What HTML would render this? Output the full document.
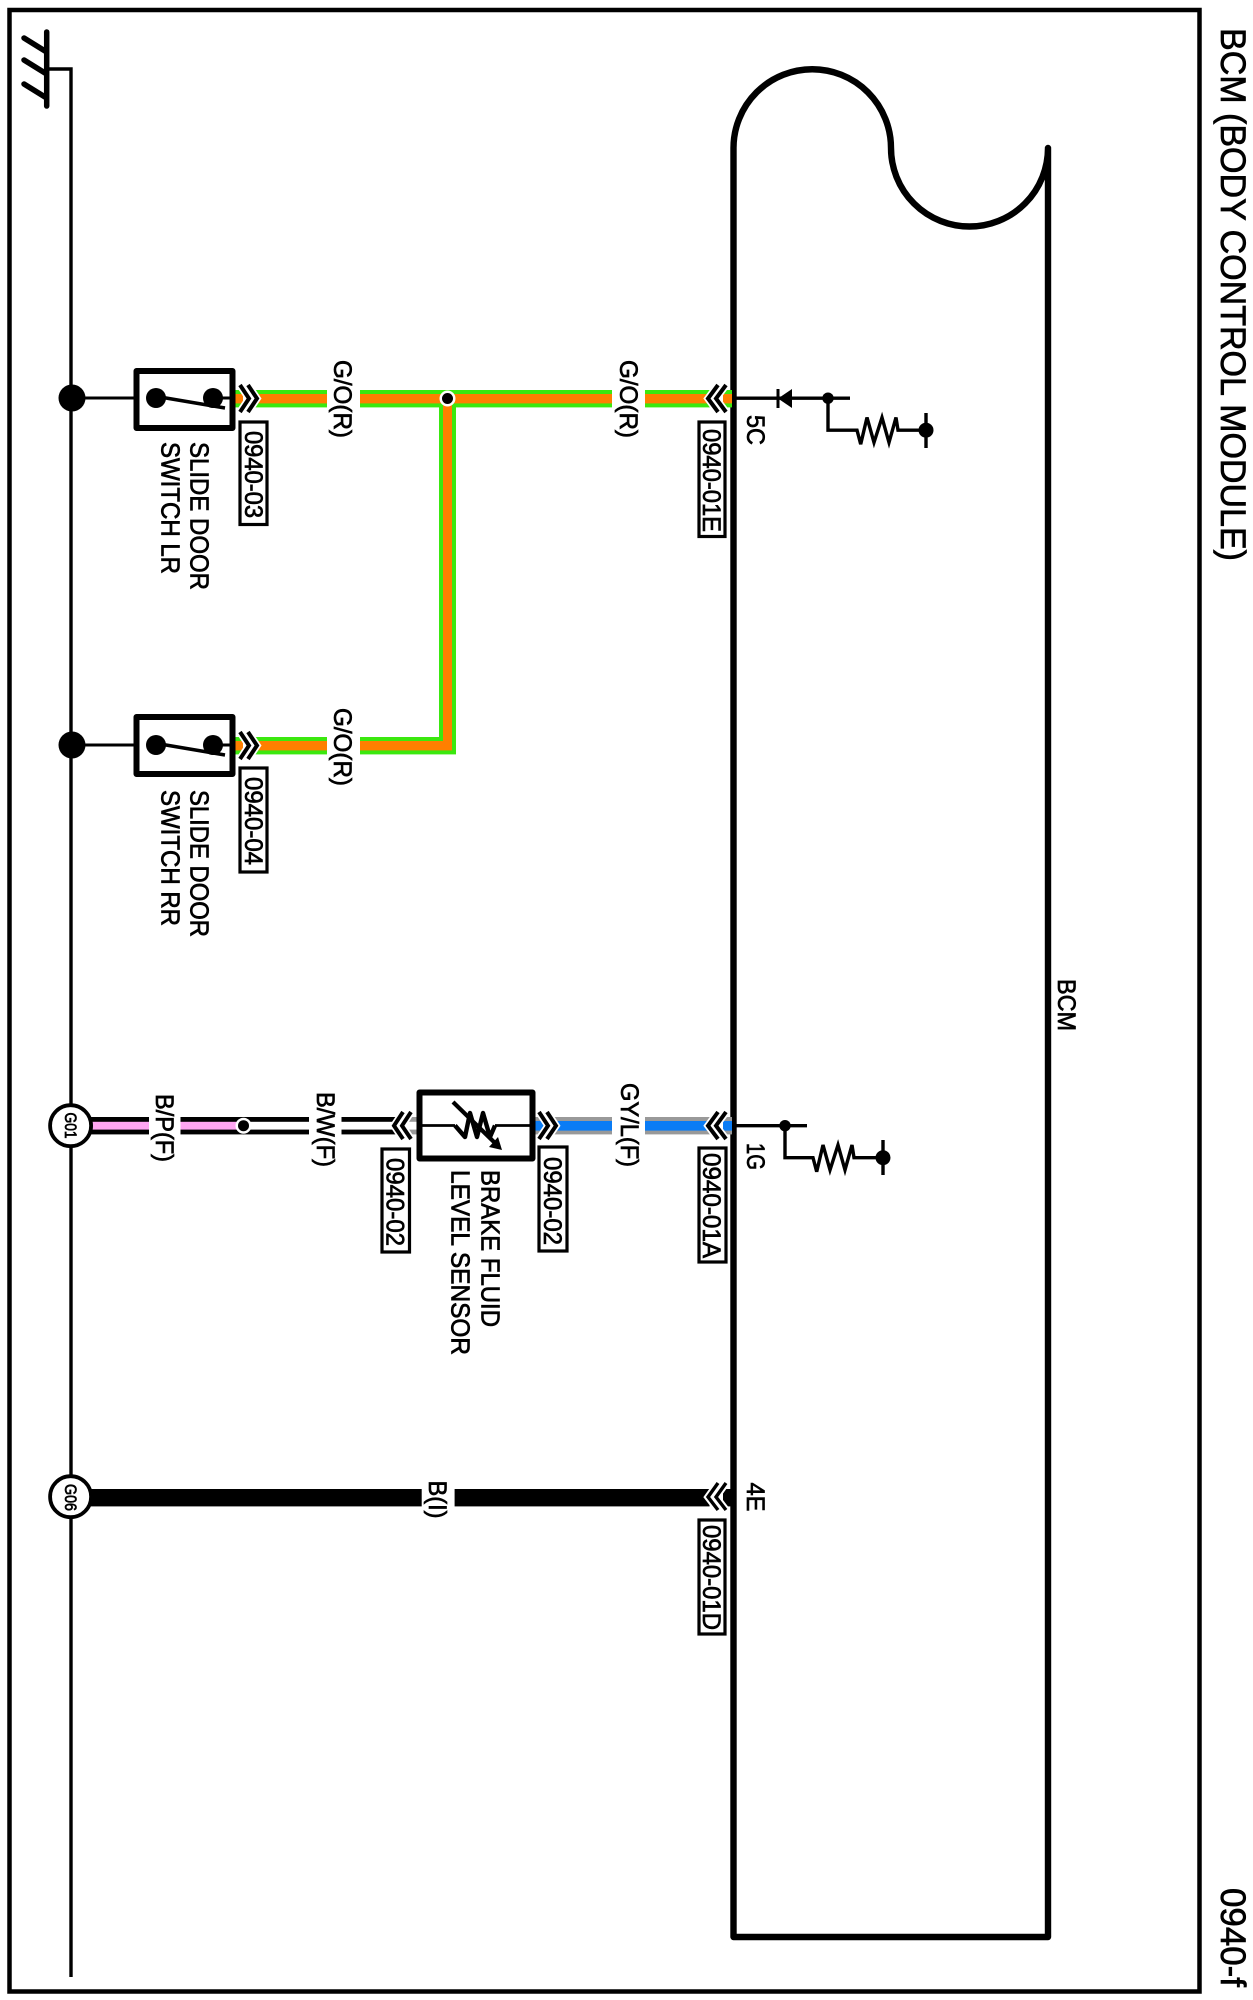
<!DOCTYPE html>
<html>
<head>
<meta charset="utf-8">
<style>
html,body{margin:0;padding:0;background:#fff;width:1253px;height:2000px;overflow:hidden}
svg{display:block}
text{font-family:"Liberation Sans",sans-serif;fill:#000;stroke:#000;stroke-width:.7}
</style>
</head>
<body>
<svg width="1253" height="2000" viewBox="0 0 1253 2000" xmlns="http://www.w3.org/2000/svg">
<rect width="1253" height="2000" fill="#fff"/>
<!-- frame -->
<rect x="9.5" y="10" width="1190" height="1981.5" fill="none" stroke="#000" stroke-width="4.5"/>
<!-- ground -->
<g stroke="#000" fill="none" stroke-linecap="round">
<path d="M46.7 32V106" stroke-width="5.5"/>
<path d="M24 38L45 51M24 60L45 73M24 84L45 97" stroke-width="5.5"/>
</g>
<path d="M47 69H71V1977" fill="none" stroke="#000" stroke-width="3.4"/>
<circle cx="72" cy="398" r="13.5"/>
<circle cx="72" cy="745" r="13.5"/>

<!-- BCM outline -->
<path d="M1048 148V1937H733.5V148A78.75 78.75 0 0 1 891 148A78.5 78.5 0 0 0 1048 148Z" fill="none" stroke="#000" stroke-width="6.4" stroke-linejoin="round"/>

<!-- top wires -->
<g fill="#3be80f">
<rect x="235" y="390" width="8" height="17.4"/>
<rect x="255" y="390" width="72" height="17.4"/>
<rect x="360" y="390" width="252" height="17.4"/>
<rect x="645" y="390" width="65" height="17.4"/>
<rect x="723" y="390" width="9" height="17.4"/>
<rect x="439" y="390" width="17" height="364"/>
<rect x="235" y="737" width="8" height="17.4"/>
<rect x="255" y="737" width="72" height="17.4"/>
<rect x="360" y="737" width="96" height="17.4"/>
</g>
<g fill="#ff7f00">
<rect x="235" y="394" width="8" height="9.4"/>
<rect x="255" y="394" width="72" height="9.4"/>
<rect x="360" y="394" width="252" height="9.4"/>
<rect x="645" y="394" width="65" height="9.4"/>
<rect x="723" y="394" width="9" height="9.4"/>
<rect x="443" y="394" width="9" height="356"/>
<rect x="235" y="741" width="8" height="9.4"/>
<rect x="255" y="741" width="72" height="9.4"/>
<rect x="360" y="741" width="92" height="9.4"/>
</g>
<circle cx="447.5" cy="398.5" r="8" fill="#fff"/>
<circle cx="447.5" cy="398.5" r="5.5"/>

<!-- row 3 wires -->
<g fill="#000">
<rect x="90" y="1117" width="59" height="17.4"/>
<rect x="180.5" y="1117" width="63" height="17.4"/>
<rect x="243" y="1117" width="66" height="17.4"/>
<rect x="341.5" y="1117" width="54" height="17.4"/>
</g>
<g fill="#ffa6f2">
<rect x="92" y="1121.8" width="57" height="7.8"/>
<rect x="180.5" y="1121.8" width="63" height="7.8"/>
</g>
<g fill="#fff">
<rect x="243" y="1121.8" width="66" height="7.8"/>
<rect x="341.5" y="1121.8" width="54" height="7.8"/>
</g>
<rect x="409" y="1117" width="8" height="17.4" fill="#999"/>
<rect x="409" y="1121.8" width="8" height="7.8" fill="#fff"/>
<circle cx="243.5" cy="1125.7" r="8" fill="#fff"/>
<circle cx="243.5" cy="1125.7" r="5.5"/>
<g fill="#999">
<rect x="535" y="1117" width="10" height="17.4"/>
<rect x="554" y="1117" width="58" height="17.4"/>
<rect x="645" y="1117" width="65" height="17.4"/>
<rect x="723" y="1117" width="9" height="17.4"/>
</g>
<g fill="#0a7cf5">
<rect x="535" y="1121" width="10" height="9.6"/>
<rect x="554" y="1121" width="58" height="9.6"/>
<rect x="645" y="1121" width="65" height="9.6"/>
<rect x="723" y="1121" width="9" height="9.6"/>
</g>

<!-- row 4 wire -->
<rect x="90" y="1489" width="331.7" height="17.4"/>
<rect x="454.6" y="1489" width="255" height="17.4"/>
<rect x="723" y="1489" width="9" height="17.4"/>

<!-- ground circles -->
<circle cx="70.6" cy="1125.7" r="20.5" fill="#fff" stroke="#000" stroke-width="3.8"/>
<circle cx="70.6" cy="1496.7" r="20.5" fill="#fff" stroke="#000" stroke-width="3.8"/>
<text transform="translate(65,1112.5) rotate(90)" font-size="17" textLength="26" lengthAdjust="spacingAndGlyphs">G01</text>
<text transform="translate(65,1484) rotate(90)" font-size="17" textLength="27" lengthAdjust="spacingAndGlyphs">G06</text>

<!-- switches -->
<g fill="none" stroke="#000">
<path d="M71 398H136M213 398H233M71 745H136M213 745H233" stroke-width="3"/>
<rect x="136.5" y="371" width="96" height="57" stroke-width="6" stroke-linejoin="round"/>
<rect x="136.5" y="717" width="96" height="57" stroke-width="6" stroke-linejoin="round"/>
<path d="M160 397L225 408M160 744L225 755" stroke-width="3.5"/>
</g>
<circle cx="156" cy="398" r="10"/><circle cx="213" cy="398" r="10"/>
<circle cx="156" cy="745" r="10"/><circle cx="213" cy="745" r="10"/>

<!-- sensor -->
<rect x="419.5" y="1092.5" width="113" height="66" fill="#fff" stroke="#000" stroke-width="6" stroke-linejoin="round"/>
<path d="M419 1125.5H455M495 1125.5H533" stroke="#000" stroke-width="2.8" fill="none"/>
<path d="M455 1125.5L465 1137L470 1113L477 1137L483 1113L490 1137L495 1125.5" stroke="#000" stroke-width="4.4" fill="none" stroke-linejoin="round"/>
<path d="M453 1102L495 1143" stroke="#000" stroke-width="4.2" fill="none"/>
<path d="M502 1150L489 1147L498 1137Z"/>

<!-- chevrons -->
<g fill="none" stroke-linejoin="miter">
<g stroke="#fff" stroke-width="7.5">
<path d="M240 385L249 398.5L240 412M248 385L257 398.5L248 412"/>
<path d="M240 732L249 745.5L240 759M248 732L257 745.5L248 759"/>
<path d="M718 385L708 398.5L718 412M726 385L716 398.5L726 412"/>
<path d="M403 1112L394 1125.7L403 1139M411 1112L402 1125.7L411 1139"/>
<path d="M539 1112L548 1125.7L539 1139M547 1112L556 1125.7L547 1139"/>
<path d="M718 1112L708 1125.7L718 1139M726 1112L716 1125.7L726 1139"/>
<path d="M718 1483L708 1497L718 1510M726 1483L716 1497L726 1510"/>
</g>
<g stroke="#000" stroke-width="4">
<path d="M240 385L249 398.5L240 412M248 385L257 398.5L248 412"/>
<path d="M240 732L249 745.5L240 759M248 732L257 745.5L248 759"/>
<path d="M718 385L708 398.5L718 412M726 385L716 398.5L726 412"/>
<path d="M403 1112L394 1125.7L403 1139M411 1112L402 1125.7L411 1139"/>
<path d="M539 1112L548 1125.7L539 1139M547 1112L556 1125.7L547 1139"/>
<path d="M718 1112L708 1125.7L718 1139M726 1112L716 1125.7L726 1139"/>
</g>
<g stroke="#000" stroke-width="3.4">
<path d="M718 1483L708 1497L718 1510M726 1483L716 1497L726 1510"/>
</g>
</g>

<!-- right circuits -->
<g fill="none" stroke="#000" stroke-width="3.4">
<path d="M735 398.2H850"/>
<path d="M828 398.2V430.2H857L860.7 444.2L867 417.5L874 442.5L882 417.5L889 442.5L896 417.5L898 430.2H926"/>
<path d="M926 413V448"/>
<path d="M735 1125.7H807"/>
<path d="M785 1125.7V1157.7H813L816.7 1171.7L823 1145L830 1170L838 1145L845 1170L852 1145L854 1157.7H883"/>
<path d="M883 1140V1175"/>
</g>
<path d="M792 389V408L778 398.5Z"/>
<path d="M778 389V408" stroke="#000" stroke-width="3"/>
<circle cx="828" cy="398.2" r="5.7"/>
<circle cx="926" cy="430.2" r="7.5"/>
<circle cx="785" cy="1125.7" r="5.7"/>
<circle cx="883" cy="1157.7" r="7.5"/>

<!-- connector boxes -->
<g fill="#fff" stroke="#000" stroke-width="3.2">
<rect x="240" y="422" width="27" height="102.5"/>
<rect x="240" y="768" width="27" height="104"/>
<rect x="382" y="1149" width="27.5" height="103"/>
<rect x="539" y="1147" width="28" height="104"/>
<rect x="699" y="422" width="26" height="114.5"/>
<rect x="699" y="1148" width="27" height="114"/>
<rect x="699" y="1520" width="26" height="114"/>
</g>

<!-- text -->
<g font-size="25">
<text transform="translate(245,431) rotate(90)" textLength="87" lengthAdjust="spacingAndGlyphs">0940-03</text>
<text transform="translate(245,777) rotate(90)" textLength="88" lengthAdjust="spacingAndGlyphs">0940-04</text>
<text transform="translate(386.5,1158) rotate(90)" textLength="88" lengthAdjust="spacingAndGlyphs">0940-02</text>
<text transform="translate(544,1157) rotate(90)" textLength="88" lengthAdjust="spacingAndGlyphs">0940-02</text>
<text transform="translate(703,429) rotate(90)" textLength="103" lengthAdjust="spacingAndGlyphs">0940-01E</text>
<text transform="translate(703,1153) rotate(90)" textLength="105" lengthAdjust="spacingAndGlyphs">0940-01A</text>
<text transform="translate(703,1525) rotate(90)" textLength="105" lengthAdjust="spacingAndGlyphs">0940-01D</text>

<text transform="translate(334,360) rotate(90)" textLength="78" lengthAdjust="spacingAndGlyphs">G/O(R)</text>
<text transform="translate(334,708) rotate(90)" textLength="78" lengthAdjust="spacingAndGlyphs">G/O(R)</text>
<text transform="translate(620,360) rotate(90)" textLength="78" lengthAdjust="spacingAndGlyphs">G/O(R)</text>
<text transform="translate(156,1094) rotate(90)" textLength="68" lengthAdjust="spacingAndGlyphs">B/P(F)</text>
<text transform="translate(317,1092) rotate(90)" textLength="75" lengthAdjust="spacingAndGlyphs">B/W(F)</text>
<text transform="translate(621,1083) rotate(90)" textLength="84" lengthAdjust="spacingAndGlyphs">GY/L(F)</text>
<text transform="translate(429,1480.5) rotate(90)" textLength="38" lengthAdjust="spacingAndGlyphs">B(I)</text>

<text transform="translate(747,415) rotate(90)" textLength="30" lengthAdjust="spacingAndGlyphs">5C</text>
<text transform="translate(747,1143) rotate(90)" textLength="27" lengthAdjust="spacingAndGlyphs">1G</text>
<text transform="translate(747,1482.5) rotate(90)" textLength="29" lengthAdjust="spacingAndGlyphs">4E</text>
<text transform="translate(1058,979) rotate(90)" textLength="52" lengthAdjust="spacingAndGlyphs">BCM</text>
</g>
<g font-size="26">
<text transform="translate(190.5,442) rotate(90)" textLength="148" lengthAdjust="spacingAndGlyphs">SLIDE DOOR</text>
<text transform="translate(161.5,442) rotate(90)" textLength="132" lengthAdjust="spacingAndGlyphs">SWITCH LR</text>
<text transform="translate(190.5,790) rotate(90)" textLength="147" lengthAdjust="spacingAndGlyphs">SLIDE DOOR</text>
<text transform="translate(161.5,790) rotate(90)" textLength="136" lengthAdjust="spacingAndGlyphs">SWITCH RR</text>
<text transform="translate(481.5,1170) rotate(90)" textLength="157" lengthAdjust="spacingAndGlyphs">BRAKE FLUID</text>
<text transform="translate(451.5,1170) rotate(90)" textLength="185" lengthAdjust="spacingAndGlyphs">LEVEL SENSOR</text>
</g>
<g font-size="35">
<text transform="translate(1221,28) rotate(90)" textLength="533" lengthAdjust="spacingAndGlyphs">BCM (BODY CONTROL MODULE)</text>
<text transform="translate(1221,1888) rotate(90)" textLength="99" lengthAdjust="spacingAndGlyphs">0940-f</text>
</g>
</svg>
</body>
</html>
